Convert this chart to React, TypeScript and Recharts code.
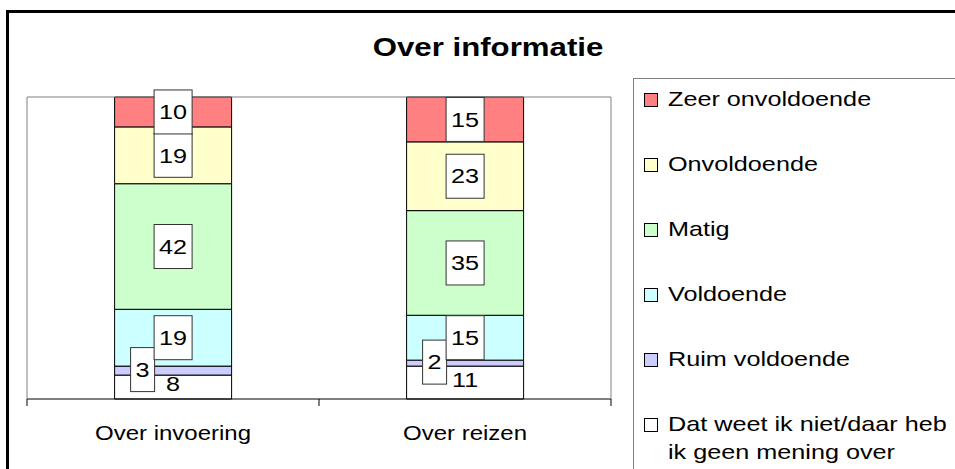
import React from 'react';
import { BarChart, Bar, XAxis, YAxis, LabelList, Legend } from 'recharts';

// values per category (percentages)
const categories = ['Over invoering', 'Over reizen'];
const weetNiet = [8, 11];
const ruimVoldoende = [3, 2];
const voldoende = [19, 15];
const matig = [42, 35];
const onvoldoende = [19, 23];
const zeerOnvoldoende = [10, 15];

// frame axis runs 0..1 across the plot: category boundaries at 0, .5, 1 and centres at .25, .75
const frameTicks = [0, 0.25, 0.5, 0.75, 1];

// bottom to top, as stacked
const series = [
  { key: 'weetNiet', name: 'Dat weet ik niet/daar heb\nik geen mening over', color: '#FFFFFF', values: weetNiet, label: 'plain' },
  { key: 'ruimVoldoende', name: 'Ruim voldoende', color: '#CCCCFF', values: ruimVoldoende, label: 'left' },
  { key: 'voldoende', name: 'Voldoende', color: '#CCFFFF', values: voldoende, label: 'box' },
  { key: 'matig', name: 'Matig', color: '#CCFFCC', values: matig, label: 'box' },
  { key: 'onvoldoende', name: 'Onvoldoende', color: '#FFFFCC', values: onvoldoende, label: 'box' },
  { key: 'zeerOnvoldoende', name: 'Zeer onvoldoende', color: '#FF8080', values: zeerOnvoldoende, label: 'box' },
];

const data = categories.map((name, i) => {
  const row: any = { name };
  series.forEach(s => { row[s.key] = s.values[i]; });
  return row;
});

const FONT = '"Liberation Sans", Arial, sans-serif';

function makeLabel(kind: string) {
  return (props: any) => {
    const vb = props.viewBox || props;
    const x = Number(props.x ?? vb.x);
    const y = Number(props.y ?? vb.y);
    const width = Number(props.width ?? vb.width);
    const height = Number(props.height ?? vb.height);
    const txt = String(props.value);
    let cx = x + width / 2;
    let cy = y + height / 2;
    if (kind === 'left') { cx = x + 28; cy = cy - 1; }
    if (kind === 'plain') cy = cy - 3;
    const w = txt.length > 1 ? 38 : 24;
    const h = 44;
    return (
      <g>
        {kind !== 'plain' && (
          <rect x={cx - w / 2} y={cy - h / 2} width={w} height={h} fill="#fff" stroke="#333" strokeWidth={1} />
        )}
        <text
          transform={`translate(${cx},${cy}) scale(1.2,1)`}
          textAnchor="middle"
          dominantBaseline="central"
          fontSize={21}
          fontFamily={FONT}
          fill="#000"
        >
          {txt}
        </text>
      </g>
    );
  };
}

// boundary values get a tick mark, centre values the category name
const FrameTick = (props: any) => {
  const { x, y, payload } = props;
  const v = Number(payload.value) * categories.length;
  if (Math.abs(v - Math.round(v)) < 1e-6) {
    return <line x1={x} x2={x} y1={y} y2={y + 7} stroke="#000" strokeWidth={1} />;
  }
  return (
    <text
      transform={`translate(${x},${y + 34}) scale(1.2,1)`}
      textAnchor="middle"
      dominantBaseline="central"
      fontSize={20}
      fontFamily={FONT}
      fill="#000"
    >
      {categories[Math.floor(v)]}
    </text>
  );
};

const LegendBox = () => (
  <div style={{ paddingTop: 6, fontFamily: FONT }}>
    {[...series].reverse().map(s => (
      <div key={s.key} style={{ height: 65, position: 'relative' }}>
        <div
          style={{
            position: 'absolute', left: 10, top: 8, width: 12, height: 12,
            background: s.color, border: '1px solid #000',
          }}
        />
        <div style={{ position: 'absolute', left: 34, top: 0 }}>
          {s.name.split('\n').map((line, i) => (
            <div
              key={i}
              style={{
                fontSize: 21, lineHeight: '28px', whiteSpace: 'nowrap',
                transform: 'scaleX(1.2)', transformOrigin: 'left center', color: '#000',
              }}
            >
              {line}
            </div>
          ))}
        </div>
      </div>
    ))}
  </div>
);

export default function App() {
  return (
    <div style={{ position: 'absolute', left: 0, top: 0, width: 955, height: 469, overflow: 'hidden', background: '#fff' }}>
      <div
        style={{
          position: 'absolute', left: 6, top: 10, width: 1000, height: 500,
          borderLeft: '3px solid #000', borderTop: '3px solid #000',
        }}
      />
      <div
        style={{
          position: 'absolute', left: 0, top: 30, width: 976, textAlign: 'center',
          fontFamily: FONT, fontWeight: 'bold', fontSize: 26, lineHeight: '34px',
          transform: 'scaleX(1.2)', transformOrigin: '488px 0',
        }}
      >
        Over informatie
      </div>
      <div style={{ position: 'absolute', left: 0, top: 0 }}>
        <BarChart
          width={955}
          height={469}
          data={data}
          stackOffset="expand"
          barCategoryGap="30%"
          margin={{ top: 96, left: 26, right: 343, bottom: 20 }}
        >
          <XAxis xAxisId="cat" dataKey="name" hide height={0} />
          <XAxis
            xAxisId="frame"
            type="number"
            domain={[0, 1]}
            ticks={frameTicks}
            allowDataOverflow
            height={50}
            tickSize={0}
            tickMargin={0}
            tickLine={false}
            tick={<FrameTick />}
            interval={0}
            axisLine={{ stroke: '#000' }}
          />
          <XAxis
            xAxisId="top"
            orientation="top"
            type="number"
            domain={[0, 1]}
            ticks={[0, 1]}
            allowDataOverflow
            height={1}
            tick={false}
            tickLine={false}
            axisLine={{ stroke: '#808080' }}
          />
          <YAxis yAxisId="l" domain={[0, 1]} width={1} tick={false} tickLine={false} axisLine={{ stroke: '#808080' }} />
          <YAxis
            yAxisId="r"
            orientation="right"
            domain={[0, 1]}
            width={1}
            tick={false}
            tickLine={false}
            axisLine={{ stroke: '#808080' }}
          />
          <Legend
            layout="vertical"
            align="center"
            verticalAlign="middle"
            content={<LegendBox />}
            wrapperStyle={{
              left: 633, top: 78, width: 340, height: 420,
              border: '1px solid #808080', background: '#fff', boxSizing: 'border-box',
            }}
          />
          {series.map(s => (
            <Bar
              key={s.key}
              dataKey={s.key}
              name={s.name}
              stackId="a"
              xAxisId="cat"
              yAxisId="l"
              fill={s.color}
              stroke="#000"
              strokeWidth={1}
              isAnimationActive={false}
            >
              <LabelList dataKey={s.key} content={makeLabel(s.label)} />
            </Bar>
          ))}
        </BarChart>
      </div>
    </div>
  );
}
